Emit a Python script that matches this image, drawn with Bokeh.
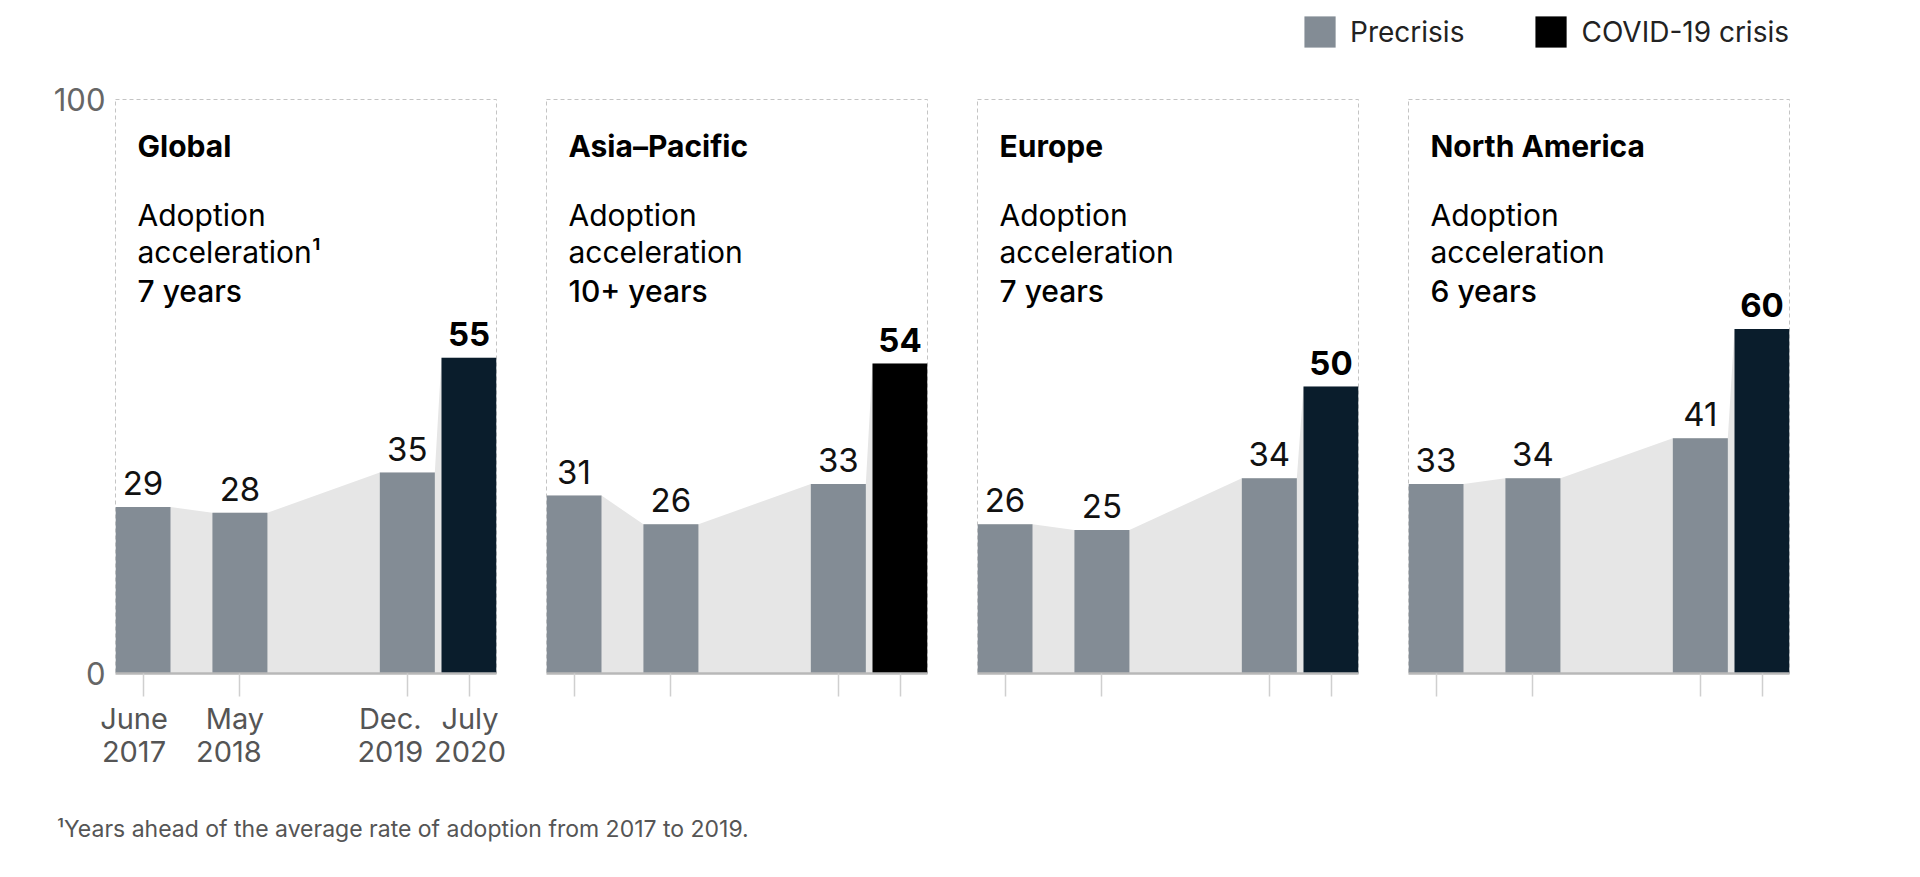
from bokeh.plotting import figure
from bokeh.models import (Range1d, FixedTicker, Legend, LegendItem, Div, LinearAxis,
                          CustomJSTickFormatter)
from bokeh.layouts import row, column
from bokeh.embed import file_html
from bokeh.resources import INLINE
from bokeh.core.properties import value

# ---------------- data ----------------
regions = ["Global", "Asia–Pacific", "Europe", "North America"]
acceleration = ["7 years", "10+ years", "7 years", "6 years"]
note_marks = ["¹", "", "", ""]
survey_month_names = ["June", "May", "Dec.", "July"]
survey_years = ["2017", "2018", "2019", "2020"]
survey_months = [0, 11, 30, 37]          # months since June 2017
global_vals = [29, 28, 35, 55]
asia_vals = [31, 26, 33, 54]
europe_vals = [26, 25, 34, 50]
na_vals = [33, 34, 41, 60]
phases = ["Precrisis", "COVID-19 crisis"]
footnote = "¹Years ahead of the average rate of adoption from 2017 to 2019."

# ---------------- style ----------------
FONT = "Inter"
PRE = "#838c95"
AREA = "#e6e6e6"
CRISIS = {"Global": "#0a1d2c", "Asia–Pacific": "#000000",
          "Europe": "#0a1d2c", "North America": "#0a1d2c"}
FRAME_W = 381
FRAME_H = 574
BAR_PX = 55
BASE_FIX = 12            # compensation for alphabetic baseline rendering
MONTH_NUDGE = [-9, -5, -17, 1]     # px shift of date labels from their tick
YEAR_NUDGE = [-9, -11, -17, 1]
span_core = survey_months[-1] - survey_months[0]
BAR_W = BAR_PX * span_core / (FRAME_W - BAR_PX)   # bar width in months


def label_axis(ticks, labels, standoff):
    return LinearAxis(
        ticker=FixedTicker(ticks=ticks),
        formatter=CustomJSTickFormatter(args=dict(labels=labels),
                                        code="return labels[index];"),
        axis_line_color=None, major_tick_line_color=None,
        minor_tick_line_color=None, major_tick_out=0, major_tick_in=0,
        major_label_standoff=standoff, major_label_text_font=FONT,
        major_label_text_font_size="29px", major_label_text_color="#555555")


def panel(idx, vals):
    first = idx == 0
    name = regions[idx]
    x0 = survey_months[0] - BAR_W / 2
    x1 = survey_months[-1] + BAR_W / 2
    left = 115 if first else 25
    p = figure(width=left + FRAME_W + 25, height=21 + FRAME_H + 110,
               x_range=Range1d(x0, x1), y_range=Range1d(0, 100),
               output_backend="svg", toolbar_location=None,
               min_border_left=left, min_border_right=25,
               min_border_top=21, min_border_bottom=110)
    p.grid.visible = False
    p.outline_line_color = "#c4c4c4"
    p.outline_line_dash = "4 3"
    p.outline_line_width = 1
    p.border_fill_color = "white"

    # connecting area
    xs, ys = [], []
    for m, v in zip(survey_months, vals):
        xs += [m - BAR_W / 2, m + BAR_W / 2]
        ys += [v, v]
    p.varea(x=xs, y1=[0] * len(xs), y2=ys, fill_color=AREA)

    colors = [PRE] * (len(vals) - 1) + [CRISIS[name]]
    p.vbar(x=survey_months, top=vals, width=BAR_W, fill_color=colors,
           line_color=None)

    # value labels
    p.text(x=survey_months[:-1], y=vals[:-1], text=[str(v) for v in vals[:-1]],
           text_align="center", text_baseline="alphabetic", y_offset=-12 - BASE_FIX,
           text_font=value(FONT), text_font_size="33px", text_color="#111111")
    p.text(x=survey_months[-1:], y=vals[-1:], text=[str(v) for v in vals[-1:]],
           text_align="center", text_baseline="alphabetic", y_offset=-12 - BASE_FIX,
           text_font=value(FONT), text_font_size="33px", text_font_style="bold",
           text_color="#000000")

    # panel texts
    common = dict(x=[x0], y=[100], x_offset=22, text_align="left",
                  text_baseline="alphabetic", text_font_size="30px",
                  text_color="#000000")
    p.text(text=[name], y_offset=58 - BASE_FIX, text_font_style="bold",
           text_font=value(FONT), **common)
    p.text(text=["Adoption"], y_offset=127 - BASE_FIX, text_font=value(FONT), **common)
    p.text(text=["acceleration" + note_marks[idx]], y_offset=164 - BASE_FIX,
           text_font=value(FONT), **common)
    p.text(text=[acceleration[idx]], y_offset=203 - BASE_FIX,
           text_font=value("Inter Medium, Inter"), **common)

    # x axis (baseline + ticks)
    ax = p.xaxis[0]
    ax.ticker = FixedTicker(ticks=survey_months)
    ax.major_label_overrides = {m: "" for m in survey_months}
    ax.axis_line_color = "#b8b8b8"
    ax.axis_line_width = 2.5
    ax.major_tick_line_color = "#cfcfcf"
    ax.major_tick_line_width = 1.5
    ax.major_tick_out = 23
    ax.major_tick_in = 0
    ax.minor_tick_line_color = None
    ax.major_label_standoff = 0
    ax.major_label_text_font_size = "0px"

    if first:
        scale = FRAME_W / (x1 - x0)
        mon_ticks = [m + d / scale for m, d in zip(survey_months, MONTH_NUDGE)]
        yr_ticks = [m + d / scale for m, d in zip(survey_months, YEAR_NUDGE)]
        p.add_layout(label_axis(mon_ticks, survey_month_names, 4), "below")
        p.add_layout(label_axis(yr_ticks, survey_years, 2), "below")

    # y axis
    ay = p.yaxis[0]
    if first:
        ay.ticker = FixedTicker(ticks=[0, 100])
        ay.axis_line_color = None
        ay.major_tick_line_color = None
        ay.minor_tick_line_color = None
        ay.major_tick_out = 0
        ay.major_tick_in = 0
        ay.major_label_standoff = 10
        ay.major_label_text_font = FONT
        ay.major_label_text_font_size = "31px"
        ay.major_label_text_color = "#666666"
    else:
        ay.visible = False
    return p


panels = [panel(i, v) for i, v in enumerate([global_vals, asia_vals, europe_vals, na_vals])]
total_w = sum(p.width for p in panels)

# legend strip
lf = figure(width=total_w, height=78, output_backend="svg", toolbar_location=None,
            x_range=Range1d(0, 1), y_range=Range1d(0, 1),
            min_border_left=0, min_border_right=total_w - 1801,
            min_border_top=0, min_border_bottom=0)
lf.axis.visible = False
lf.grid.visible = False
lf.outline_line_color = None
r_pre = lf.vbar(x=survey_months[:-1], top=global_vals[:-1], width=1,
                fill_color=PRE, line_color=None, visible=False)
r_cov = lf.vbar(x=survey_months[-1:], top=asia_vals[-1:], width=1,
                fill_color="#000000", line_color=None, visible=False)
leg = Legend(items=[LegendItem(label=phases[0], renderers=[r_pre]),
                    LegendItem(label=phases[1], renderers=[r_cov])],
             orientation="horizontal", location="top_right",
             glyph_width=39, glyph_height=39, label_standoff=11, spacing=67,
             padding=0, margin=12, border_line_color=None,
             background_fill_alpha=0, inactive_fill_alpha=0,
             label_text_font=FONT, label_text_font_size="28px",
             label_text_color="#222222")
lf.add_layout(leg)

foot = Div(text=footnote, width=total_w, height=78, margin=0,
           styles={"font-family": FONT, "font-size": "23px", "color": "#555555",
                   "padding-top": "33px", "padding-left": "57px",
                   "line-height": "26px", "white-space": "nowrap"})

layout = column(lf, row(*panels, spacing=0), foot, spacing=0)

open("out.html", "w").write(file_html(layout, INLINE))
